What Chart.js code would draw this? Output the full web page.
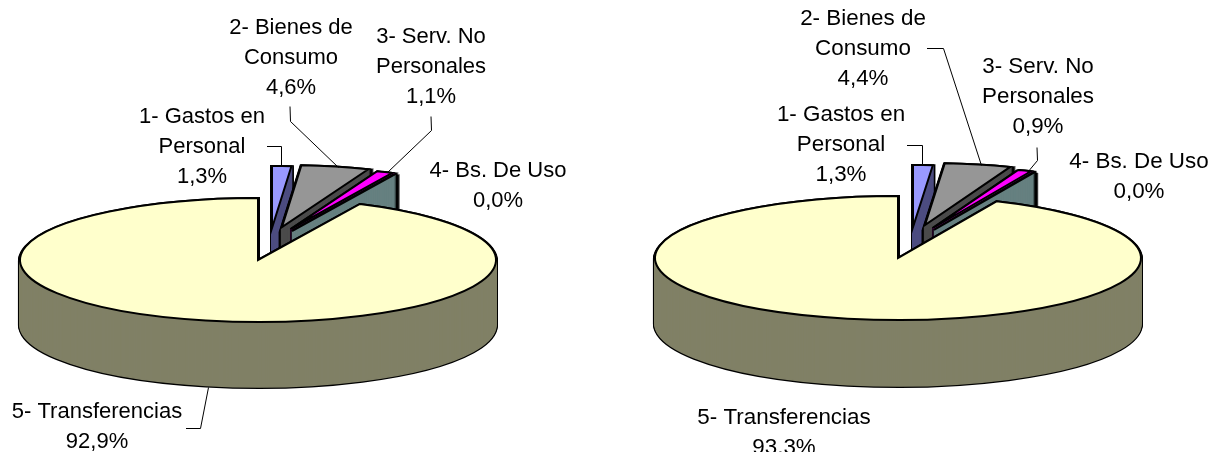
<!DOCTYPE html>
<html>
<head>
<meta charset="utf-8">
<title>Gastos por inciso</title>
<script src="https://cdn.jsdelivr.net/npm/chart.js@4"></script>
<style>
  body { margin: 0; background: #fff; overflow: hidden; }
  canvas { position: absolute; top: 0; }
</style>
</head>
<body>
<canvas id="pieLeft" width="620" height="452" style="left:0"></canvas>
<canvas id="pieRight" width="589" height="452" style="left:620px"></canvas>
<script>
// Data (percent of total per item)
const categories = [
  ["1- Gastos en", "Personal"],
  ["2- Bienes de", "Consumo"],
  ["3- Serv. No", "Personales"],
  ["4- Bs. De Uso"],
  ["5- Transferencias"],
];
const valuesLeft = [1.3, 4.6, 1.1, 0.04, 92.9];
const valuesRight = [1.3, 4.4, 0.9, 0.04, 93.3];

const topColors = ["#9999ff", "#969696", "#ff00ff", "#ccffff", "#ffffcc"];
const wallColors = ["#4d4d80", "#4b4b4b", "#800080", "#668080", "#808066"];

const leftView = {
  left: 0, cx: 258, cy: 260, rx: 238, ry: 62, depth: 65, fontSize: 22,
  shifts: [[14, -32], [24, -33], [33, -31], [34, -29], [0, 0]],
  // centre x and baseline of the first line of each label
  labelAt: [[202, 123], [291, 34], [431, 43], [498, 177], [97, 418]],
  leaders: [
    [[267, 146], [281, 146], [281, 166]],
    [[290, 106], [290, 121], [338, 167]],
    [[431, 116], [431, 130], [387, 172]],
    [[186, 428], [200, 428], [208, 387]],
  ],
};
const rightView = {
  left: 620, cx: 898, cy: 258, rx: 243, ry: 62, depth: 66, fontSize: 22.4,
  shifts: [[15, -31], [27, -33], [35, -30], [36, -28], [0, 0]],
  labelAt: [[841, 121], [863, 25], [1038, 73], [1139, 168], [784, 424]],
  leaders: [
    [[907, 145], [922, 145], [922, 164]],
    [[927, 48], [943, 48], [981, 165]],
    [[1037, 147], [1037, 160], [1027, 172]],
  ],
};

function arcStyle(fill, stroke, width) {
  return {
    backgroundColor: fill, borderColor: stroke, borderWidth: width,
    borderJoinStyle: "miter", borderAlign: "center",
    offset: 0, spacing: 0, circular: true, borderRadius: 0,
  };
}

// draws one library arc squashed into an ellipse, line width stays even
function drawSquashed(ctx, arc, view, shift, drop, style) {
  const k = view.rx / arc.outerRadius;
  const ky = view.ry / arc.outerRadius;
  const saved = arc.options;
  arc.options = style;
  ctx.save();
  ctx.translate(view.cx - view.left + shift[0], view.cy + shift[1] + drop);
  ctx.scale(k, ky);
  ctx.translate(-arc.x, -arc.y);
  ctx.stroke = function () {
    ctx.save();
    ctx.setTransform(1, 0, 0, 1, 0, 0);
    CanvasRenderingContext2D.prototype.stroke.call(ctx);
    ctx.restore();
  };
  arc.draw(ctx);
  delete ctx.stroke;
  ctx.restore();
  arc.options = saved;
}

function makePie(id, values, view) {
  const pie3d = {
    id: "pie3d",
    beforeDatasetsDraw(chart) {
      const ctx = chart.ctx;
      const arcs = chart.getDatasetMeta(0).data;
      arcs.forEach((arc, i) => {
        const shift = view.shifts[i];
        for (let d = view.depth; d > 0; d--) {
          drawSquashed(ctx, arc, view, shift, d, arcStyle("#000", "#000", 4));
        }
        for (let d = view.depth; d > 0; d--) {
          drawSquashed(ctx, arc, view, shift, d, arcStyle(wallColors[i], wallColors[i], 1.5));
        }
        drawSquashed(ctx, arc, view, shift, 0, arcStyle(topColors[i], "#000", 2));
      });
      return false;
    },
    afterDraw(chart) {
      const ctx = chart.ctx;
      ctx.save();
      ctx.translate(-view.left, 0);
      ctx.strokeStyle = "#000";
      ctx.lineWidth = 1;
      view.leaders.forEach((pts) => {
        ctx.beginPath();
        pts.forEach((p, n) => {
          if (n === 0) ctx.moveTo(p[0], p[1] + 0.5);
          else ctx.lineTo(p[0] + 0.5, p[1] + 0.5);
        });
        ctx.stroke();
      });
      ctx.fillStyle = "#000";
      ctx.textAlign = "center";
      ctx.textBaseline = "alphabetic";
      ctx.font = view.fontSize + 'px "Liberation Sans", Arial, sans-serif';
      categories.forEach((lines, i) => {
        const at = view.labelAt[i];
        const pct = values[i].toFixed(1).replace(".", ",") + "%";
        lines.concat(pct).forEach((text, n) => {
          ctx.fillText(text, at[0], at[1] + n * 30);
        });
      });
      ctx.restore();
    },
  };

  return new Chart(document.getElementById(id), {
    type: "pie",
    data: {
      labels: categories.map((c) => c.join(" ")),
      datasets: [{ data: values, backgroundColor: topColors, borderColor: "#000" }],
    },
    options: {
      responsive: false,
      animation: false,
      events: [],
      plugins: { legend: { display: false }, tooltip: { enabled: false } },
    },
    plugins: [pie3d],
  });
}

makePie("pieLeft", valuesLeft, leftView);
makePie("pieRight", valuesRight, rightView);
</script>
</body>
</html>
